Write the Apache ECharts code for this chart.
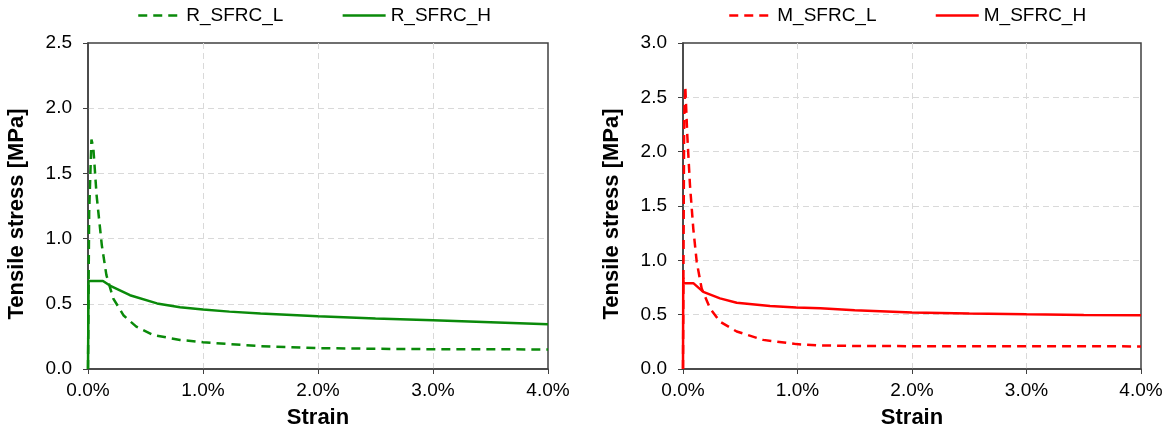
<!DOCTYPE html>
<html><head><meta charset="utf-8">
<script src="https://cdn.jsdelivr.net/npm/echarts@6/dist/echarts.min.js"></script>
<style>html,body{margin:0;padding:0;background:#fff}#c{width:1171px;height:434px}</style>
</head><body><div id="c"></div>
<script>
// Left chart (R_SFRC)
const rStrainL = [0, 0.01, 0.03, 0.046, 0.075, 0.12, 0.16, 0.22, 0.31, 0.42, 0.57, 0.8, 1.0, 1.2, 1.5, 2.0, 2.5, 3.0, 3.5, 4.0];
const rStressL = [0, 1.20, 1.76, 1.70, 1.33, 0.95, 0.72, 0.54, 0.41, 0.325, 0.26, 0.223, 0.205, 0.193, 0.175, 0.16, 0.155, 0.152, 0.151, 0.15];
const rStrainH = [0, 0.005, 0.13, 0.19, 0.365, 0.6, 0.8, 1.0, 1.23, 1.5, 2.0, 2.5, 3.0, 3.5, 4.0];
const rStressH = [0, 0.675, 0.675, 0.64, 0.566, 0.503, 0.473, 0.457, 0.44, 0.425, 0.404, 0.388, 0.373, 0.358, 0.343];
// Right chart (M_SFRC)
const mStrainL = [0, 0.01, 0.02, 0.038, 0.061, 0.09, 0.12, 0.163, 0.236, 0.323, 0.469, 0.7, 0.99, 1.17, 1.5, 2.0, 3.0, 4.0];
const mStressL = [0, 2.3, 2.6, 2.14, 1.69, 1.29, 0.985, 0.74, 0.558, 0.436, 0.345, 0.268, 0.229, 0.217, 0.212, 0.21, 0.21, 0.208];
const mStrainH = [0, 0.002, 0.006, 0.09, 0.177, 0.323, 0.469, 0.76, 0.99, 1.2, 1.5, 2.0, 2.5, 3.0, 3.5, 4.0];
const mStressH = [0, 0.84, 0.79, 0.79, 0.71, 0.65, 0.61, 0.58, 0.567, 0.558, 0.54, 0.52, 0.51, 0.503, 0.498, 0.494];

const zip = (a, b) => a.map((v, i) => [v, b[i]]);
const font = 'Liberation Sans, Arial, sans-serif';
const green = '#0a8a0a', red = '#ff0000';
const axisColor = '#404040';

function xAxis(gi) {
  return {
    gridIndex: gi, type: 'value', min: 0, max: 4, interval: 1,
    name: 'Strain', nameLocation: 'middle', nameGap: 38,
    nameTextStyle: {fontFamily: font, fontSize: 22, fontWeight: 'bold', color: '#000'},
    axisLine: {show: true, onZero: false, lineStyle: {color: axisColor, width: 1.5}},
    axisTick: {show: true, length: 5, lineStyle: {color: axisColor}},
    axisLabel: {fontFamily: font, fontSize: 19, color: '#000', margin: 12,
      formatter: v => v.toFixed(1) + '%'},
    splitLine: {show: true, showMinLine: false, showMaxLine: false,
      lineStyle: {color: '#d9d9d9', type: [6, 4]}}
  };
}
function yAxis(gi, max) {
  return {
    gridIndex: gi, type: 'value', min: 0, max: max, interval: 0.5,
    name: 'Tensile stress [MPa]', nameLocation: 'middle', nameGap: 60,
    nameTextStyle: {fontFamily: font, fontSize: 22, fontWeight: 'bold', color: '#000',
      padding: [0, 16, 0, 0]},
    axisLine: {show: true, lineStyle: {color: axisColor, width: 1.5}},
    axisTick: {show: true, length: 5, lineStyle: {color: axisColor}},
    axisLabel: {fontFamily: font, fontSize: 19, color: '#000', margin: 16,
      formatter: v => v.toFixed(1)},
    splitLine: {show: true, showMinLine: false, showMaxLine: false,
      lineStyle: {color: '#d9d9d9', type: [6, 4]}}
  };
}
function line(name, gi, data, color, dashed) {
  return {
    name, type: 'line', xAxisIndex: gi, yAxisIndex: gi, data,
    symbol: 'none', smooth: false, animation: false,
    lineStyle: {color, width: 2.5, type: dashed ? [9, 6] : 'solid'},
    itemStyle: {color}
  };
}
const legendBase = {
  top: 6, padding: 0, itemWidth: 43, itemHeight: 14, itemGap: 58,
  itemStyle: {opacity: 0},
  lineStyle: {width: 2.5},
  textStyle: {fontFamily: font, fontSize: 19, color: '#000'}
};
const chart = echarts.init(document.getElementById('c'), null, {renderer: 'canvas'});
chart.setOption({
  animation: false,
  legend: [
    Object.assign({}, legendBase, {left: 137, data: ['R_SFRC_L', 'R_SFRC_H']}),
    Object.assign({}, legendBase, {left: 728, data: ['M_SFRC_L', 'M_SFRC_H']})
  ],
  grid: [
    {left: 88, right: 623, top: 43, bottom: 63, show: true, borderColor: axisColor, borderWidth: 1.5},
    {left: 683, right: 30, top: 43, bottom: 63, show: true, borderColor: axisColor, borderWidth: 1.5}
  ],
  xAxis: [xAxis(0), xAxis(1)],
  yAxis: [yAxis(0, 2.5), yAxis(1, 3.0)],
  series: [
    line('R_SFRC_L', 0, zip(rStrainL, rStressL), green, true),
    line('R_SFRC_H', 0, zip(rStrainH, rStressH), green, false),
    line('M_SFRC_L', 1, zip(mStrainL, mStressL), red, true),
    line('M_SFRC_H', 1, zip(mStrainH, mStressH), red, false)
  ]
});
</script></body></html>
